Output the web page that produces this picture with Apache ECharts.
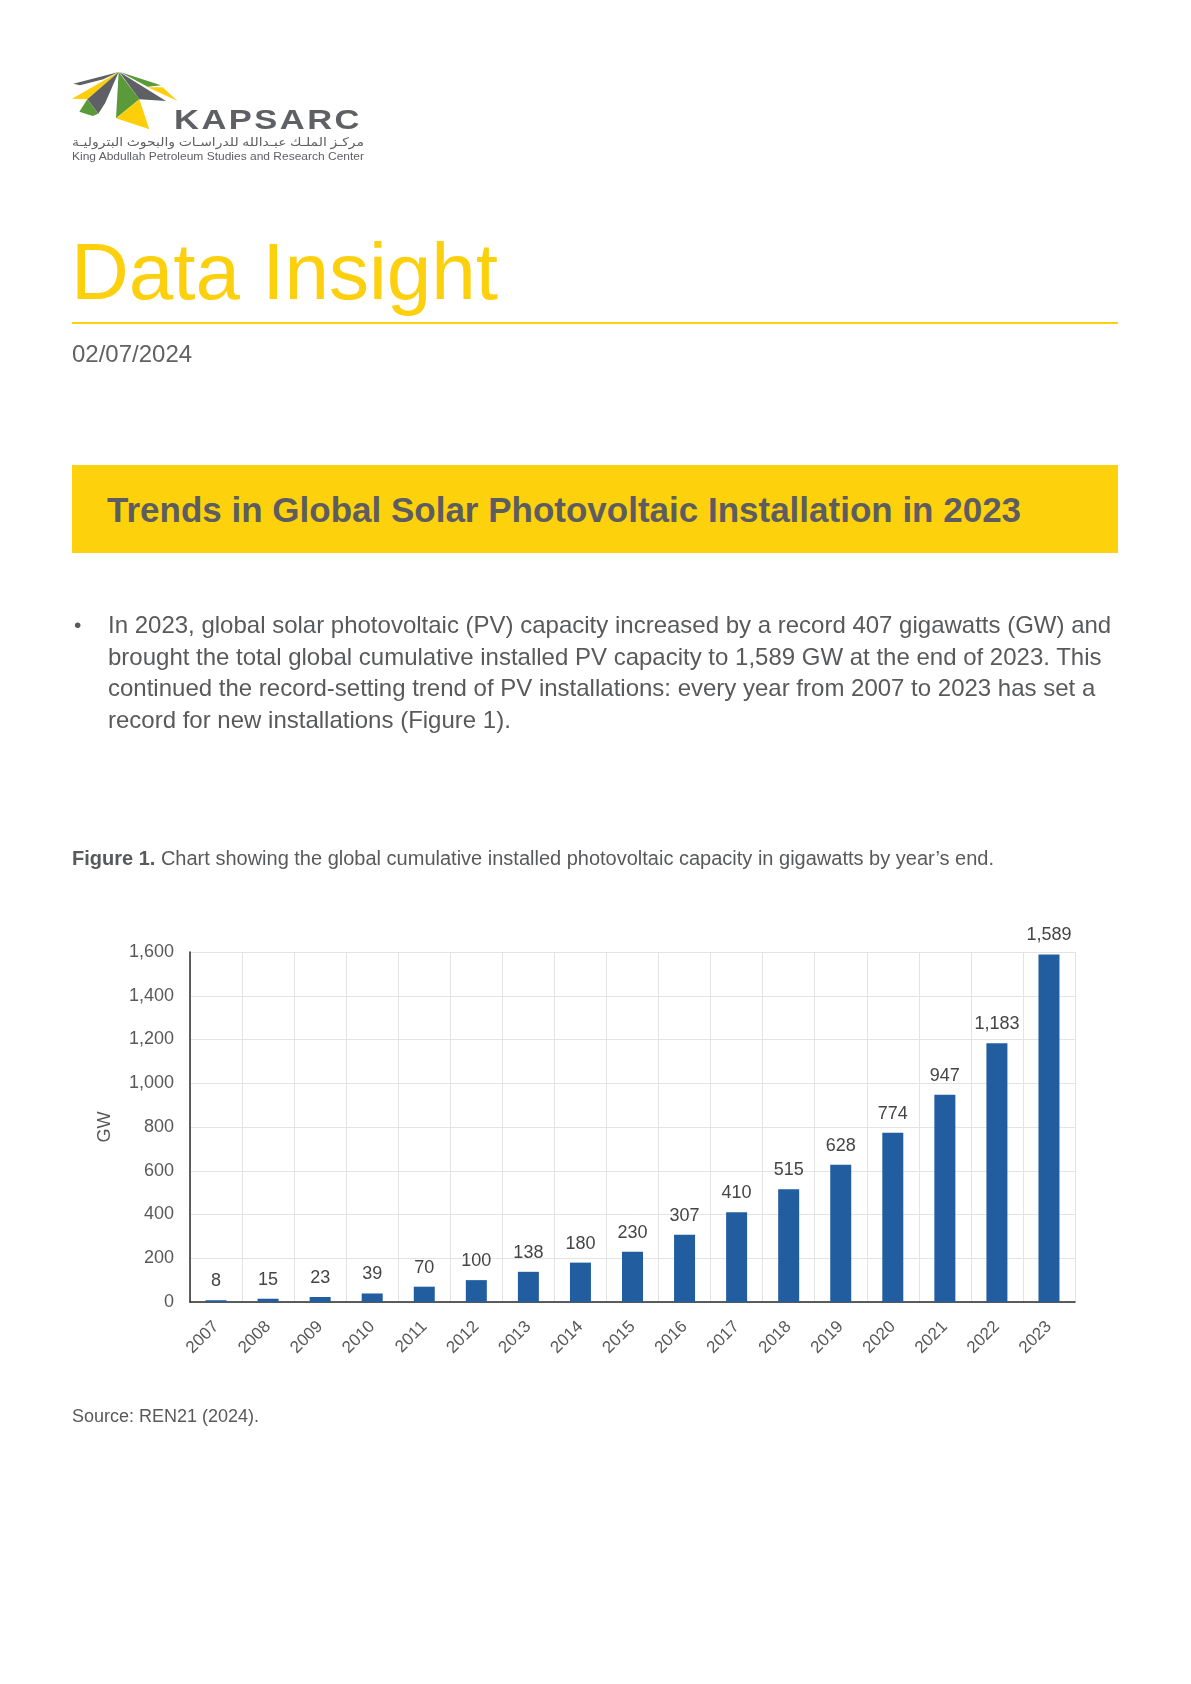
<!DOCTYPE html>
<html>
<head>
<meta charset="utf-8">
<script src="https://cdn.jsdelivr.net/npm/echarts@6/dist/echarts.min.js"></script>
<style>
  html, body { margin: 0; padding: 0; background: #fff; }
  body { width: 1191px; height: 1684px; position: relative; overflow: hidden;
         font-family: "Liberation Sans", Arial, Helvetica, sans-serif; color: #58595b; }
  .abs { position: absolute; white-space: nowrap; }
  #chart { position: absolute; left: 0; top: 0; width: 1191px; height: 1684px; }
</style>
</head>
<body>
<div id="chart"></div>

<!-- Logo -->
<svg class="abs" style="left:66px;top:66px;" width="120" height="70" viewBox="0 0 360 210">
  <polygon points="22,53 158,18 112,40 42,58" fill="#5f6064"/>
  <polygon points="18,98 158,18 64,100" fill="#fccf0a"/>
  <polygon points="64,100 158,18 118,110 97,143" fill="#5f6064"/>
  <polygon points="40,137 64,100 97,143 80,150" fill="#5a9a3a"/>
  <polygon points="158,18 150,157 220,100" fill="#5a9a3a"/>
  <polygon points="150,157 220,100 250,190" fill="#fccf0a"/>
  <polygon points="160,18 300,105 220,100" fill="#5f6064"/>
  <polygon points="162,18 285,58 245,62" fill="#5a9a3a"/>
  <polygon points="245,64 290,64 335,105" fill="#fccf0a"/>
</svg>
<div class="abs fit" data-w="188" style="left:174px;top:106px;font-size:28px;line-height:28px;font-weight:bold;letter-spacing:2px;color:#5f6064;transform-origin:0 0;">KAPSARC</div>
<div class="abs fit" data-w="292" style="left:72px;top:136px;font-size:12px;line-height:12px;color:#5f6064;font-family:'Noto Sans', 'DejaVu Sans', sans-serif;transform-origin:0 0;" dir="rtl">مركـز الملـك عبـدالله للدراسـات والبحوث البتروليـة</div>
<div class="abs fit" data-w="292" style="left:72px;top:151px;font-size:11px;line-height:11px;color:#5f6064;transform-origin:0 0;">King Abdullah Petroleum Studies and Research Center</div>

<!-- Header -->
<div class="abs" style="left:71px;top:232px;font-size:80px;line-height:80px;color:#fcd00c;">Data Insight</div>
<div class="abs" style="left:72px;top:322px;width:1046px;height:2px;background:#fcd00c;"></div>
<div class="abs" style="left:72px;top:342px;font-size:24px;line-height:24px;color:#626262;">02/07/2024</div>

<!-- Banner -->
<div class="abs" style="left:72px;top:465px;width:1046px;height:88px;background:#fdd10c;"></div>
<div class="abs" style="left:107px;top:492px;font-size:35px;line-height:35px;font-weight:bold;color:#5d5d61;">Trends in Global Solar Photovoltaic Installation in 2023</div>

<!-- Paragraph -->
<div class="abs" style="left:74px;top:609px;font-size:21px;line-height:31.6px;color:#58595b;">•</div>
<div class="abs" style="left:108px;top:609px;font-size:24px;line-height:31.6px;color:#58595b;">In 2023, global solar photovoltaic (PV) capacity increased by a record 407 gigawatts (GW) and<br>brought the total global cumulative installed PV capacity to 1,589 GW at the end of 2023. This<br>continued the record-setting trend of PV installations: every year from 2007 to 2023 has set a<br>record for new installations (Figure 1).</div>

<!-- Caption -->
<div class="abs" style="left:72px;top:848px;font-size:20px;line-height:20px;color:#58595b;"><b>Figure 1.</b> Chart showing the global cumulative installed photovoltaic capacity in gigawatts by year’s end.</div>

<!-- Source -->
<div class="abs" style="left:72px;top:1407px;font-size:18px;line-height:18px;color:#58595b;">Source: REN21 (2024).</div>

<script>
// Data
const years = ['2007','2008','2009','2010','2011','2012','2013','2014','2015','2016','2017','2018','2019','2020','2021','2022','2023'];
const capacityGW = [8, 15, 23, 39, 70, 100, 138, 180, 230, 307, 410, 515, 628, 774, 947, 1183, 1589];
const yAxisName = 'GW';

// fit small logo text lines to width
document.querySelectorAll('.fit').forEach(el => {
  const w = +el.dataset.w;
  const sw = el.getBoundingClientRect().width;
  if (sw > 0) el.style.transform = 'scaleX(' + (w / sw) + ')';
});

const chart = echarts.init(document.getElementById('chart'), null, { renderer: 'canvas' });
const fmt = v => v.toLocaleString('en-US');
chart.setOption({
  animation: false,
  backgroundColor: 'transparent',
  textStyle: { fontFamily: '"Liberation Sans", Arial, sans-serif' },
  grid: { left: 190, right: 116, top: 952, bottom: 382, containLabel: false },
  xAxis: {
    type: 'category',
    data: years,
    boundaryGap: true,
    axisLine: { show: true, lineStyle: { color: '#2b2b2b', width: 1.5 } },
    axisTick: { show: false },
    axisLabel: { rotate: 45, fontSize: 17, color: '#595959', margin: 22, interval: 0 },
    splitLine: { show: true, lineStyle: { color: '#e3e3e3', width: 1 } }
  },
  yAxis: {
    type: 'value',
    min: 0, max: 1600, interval: 200,
    name: yAxisName,
    nameLocation: 'middle',
    nameGap: 76,
    nameRotate: 90,
    nameTextStyle: { fontSize: 18, color: '#595959' },
    axisLine: { show: true, lineStyle: { color: '#2b2b2b', width: 1.5 } },
    axisTick: { show: false },
    axisLabel: { fontSize: 18, color: '#595959', margin: 16, formatter: v => fmt(v) },
    splitLine: { show: true, lineStyle: { color: '#e3e3e3', width: 1 } }
  },
  series: [{
    type: 'bar',
    data: capacityGW,
    barWidth: 21,
    itemStyle: { color: '#225e9f' },
    label: { show: true, position: 'top', distance: 10, fontSize: 18, color: '#454545', formatter: p => fmt(p.value) }
  }]
});
</script>
</body>
</html>
